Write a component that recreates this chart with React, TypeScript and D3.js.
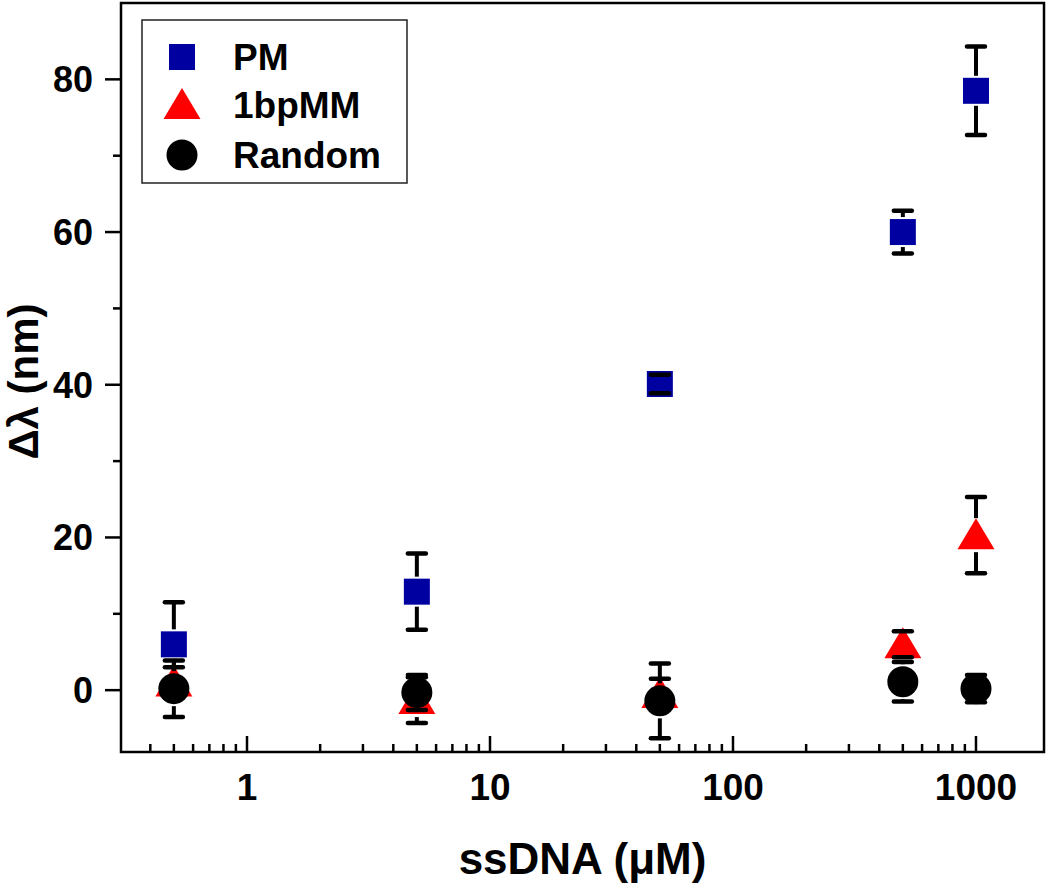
import React from "react";
import * as d3 from "d3";

const concentrations = [0.5, 5, 50, 500, 1000];
const pmValues = [6.0, 12.9, 40.1, 60.0, 78.5];
const pmErrors = [5.5, 5.0, 1.2, 2.8, 5.8];
const mmValues = [1.0, -1.3, -0.5, 6.0, 20.3];
const mmErrors = [2.0, 3.0, 2.0, 1.7, 5.0];
const randomValues = [0.2, -0.3, -1.4, 1.1, 0.2];
const randomErrors = [3.7, 2.3, 4.9, 2.6, 1.8];
const xTickValues = [1, 10, 100, 1000];
const yTickValues = [0, 20, 40, 60, 80];
const yMinorTicks = [10, 30, 50, 70];
const legendLabels = ["PM", "1bpMM", "Random"];

const W = 1050;
const H = 888;
const left = 121;
const right = 1044;
const top = 3;
const bottom = 752;
const FONT = "'Liberation Sans', Arial, sans-serif";

const x = d3.scaleLog().domain([0.303, 1905]).range([left, right]);
const y = d3.scaleLinear().domain([-8.1, 90]).range([bottom, top]);

const xMinorTicks: number[] = [];
[0.1, 1, 10, 100].forEach((dec) => {
  for (let k = 2; k <= 9; k++) {
    const v = dec * k;
    if (v > 0.303 && v < 1905 && !xTickValues.includes(v)) xMinorTicks.push(v);
  }
});

type Shape = "square" | "triangle" | "circle";

function Marker({ shape, cx, cy }: { shape: Shape; cx: number; cy: number }) {
  if (shape === "square") {
    return <rect x={cx - 13} y={cy - 13} width={26} height={26} fill="#0000a0" />;
  }
  if (shape === "triangle") {
    const p = d3.path();
    p.moveTo(cx, cy - 17);
    p.lineTo(cx + 18.5, cy + 14);
    p.lineTo(cx - 18.5, cy + 14);
    p.closePath();
    return <path d={p.toString()} fill="#ff0000" />;
  }
  return <circle cx={cx} cy={cy} r={15.5} fill="#000" />;
}

function Series({ values, errors, shape, half }: { values: number[]; errors: number[]; shape: Shape; half: number }) {
  return (
    <g>
      {values.map((v, i) => {
        const cx = x(concentrations[i]);
        const cy = y(v);
        const yt = y(v + errors[i]);
        const yb = y(v - errors[i]);
        const gap = half + 2;
        return (
          <g key={i}>
            <Marker shape={shape} cx={cx} cy={cy} />
            {cy - yt > gap && (
              <line x1={cx} x2={cx} y1={yt} y2={cy - gap} stroke="#000" strokeWidth={4} />
            )}
            {yb - cy > gap && (
              <line x1={cx} x2={cx} y1={cy + gap} y2={yb} stroke="#000" strokeWidth={4} />
            )}
            <line x1={cx - 9} x2={cx + 9} y1={yt} y2={yt} stroke="#000" strokeWidth={4.5} strokeLinecap="round" />
            <line x1={cx - 9} x2={cx + 9} y1={yb} y2={yb} stroke="#000" strokeWidth={4.5} strokeLinecap="round" />
          </g>
        );
      })}
    </g>
  );
}

export default function App() {
  const midX = (left + right) / 2;
  const midY = (top + bottom) / 2;
  return (
    <svg width={W} height={H} style={{ display: "block", position: "absolute", left: 0, top: 0 }}>
      <rect width={W} height={H} fill="#fff" />
      {/* frame */}
      <rect x={left} y={top} width={right - left} height={bottom - top} fill="none" stroke="#000" strokeWidth={2.5} />
      {/* x ticks (inward) */}
      {xTickValues.map((t) => (
        <line key={"xt" + t} x1={x(t)} x2={x(t)} y1={bottom} y2={bottom - 16} stroke="#000" strokeWidth={2.5} />
      ))}
      {xMinorTicks.map((t) => (
        <line key={"xm" + t} x1={x(t)} x2={x(t)} y1={bottom} y2={bottom - 8} stroke="#000" strokeWidth={2.5} />
      ))}
      {xTickValues.map((t) => (
        <text key={"xl" + t} x={x(t)} y={800} textAnchor="middle" fontFamily={FONT} fontWeight="bold" fontSize={37} fill="#000">
          {d3.format("d")(t)}
        </text>
      ))}
      {/* y ticks (outward) */}
      {yTickValues.map((t) => (
        <line key={"yt" + t} x1={left - 16} x2={left} y1={y(t)} y2={y(t)} stroke="#000" strokeWidth={2.5} />
      ))}
      {yMinorTicks.map((t) => (
        <line key={"ym" + t} x1={left - 8} x2={left} y1={y(t)} y2={y(t)} stroke="#000" strokeWidth={2.5} />
      ))}
      {yTickValues.map((t) => (
        <text key={"yl" + t} x={93} y={y(t) + 13} textAnchor="end" fontFamily={FONT} fontWeight="bold" fontSize={36} fill="#000">
          {t}
        </text>
      ))}
      {/* axis titles */}
      <text x={midX} y={874} textAnchor="middle" fontFamily={FONT} fontWeight="bold" fontSize={44} fill="#000">
        ssDNA (μM)
      </text>
      <text transform={`translate(38,${midY + 4}) rotate(-90)`} textAnchor="middle" fontFamily={FONT} fontWeight="bold" fontSize={42} fill="#000">
        Δλ (nm)
      </text>
      {/* data */}
      <Series values={pmValues} errors={pmErrors} shape="square" half={13} />
      <Series values={mmValues} errors={mmErrors} shape="triangle" half={15} />
      <Series values={randomValues} errors={randomErrors} shape="circle" half={15.5} />
      {/* legend */}
      <rect x={142} y={20} width={265} height={163} fill="#fff" stroke="#222" strokeWidth={1.5} />
      {legendLabels.map((lab, i) => {
        const ly = [57, 105, 155][i];
        const shape: Shape = (["square", "triangle", "circle"] as Shape[])[i];
        return (
          <g key={lab}>
            <Marker shape={shape} cx={182} cy={ly} />
            <text x={233} y={ly + 13} fontFamily={FONT} fontWeight="bold" fontSize={37} fill="#000">
              {lab}
            </text>
          </g>
        );
      })}
    </svg>
  );
}
